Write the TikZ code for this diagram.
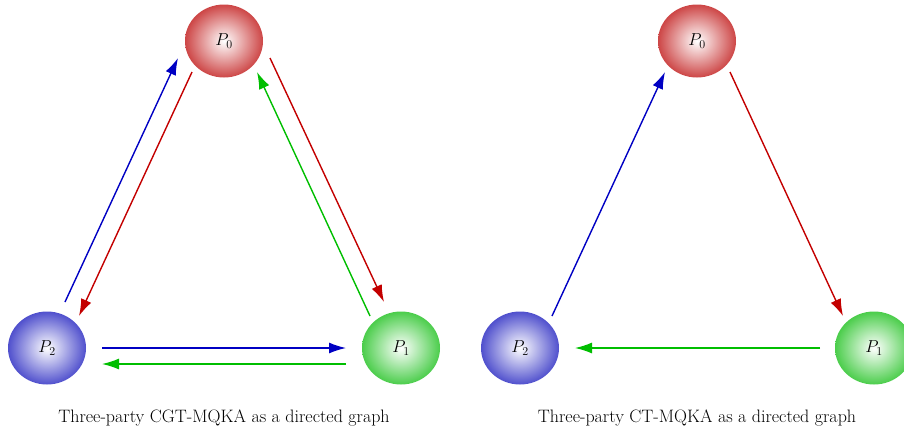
\documentclass[tikz,border=0pt]{standalone}
\usetikzlibrary{shapes.geometric,arrows.meta,calc}
\definecolor{cred}{RGB}{195,0,0}
\definecolor{cblue}{RGB}{0,0,195}
\definecolor{cgreen}{RGB}{0,190,0}
\definecolor{bred}{RGB}{205,70,70}
\definecolor{bblue}{RGB}{80,80,205}
\definecolor{bgreen}{RGB}{75,205,75}
\begin{document}
\begin{tikzpicture}[x=1pt,y=-1pt,
  party/.style={ellipse,minimum width=78pt,minimum height=73pt,inner sep=0pt,shading=radial,inner color=white,font=\fontsize{17}{20}\selectfont},
  pred/.style={party,outer color=bred},
  pblue/.style={party,outer color=bblue},
  pgreen/.style={party,outer color=bgreen},
  conn/.style={line width=1.4pt,-{Latex[length=17pt,width=11pt]}},
  captext/.style={font=\fontsize{18}{21}\selectfont}]
\useasboundingbox (0,0) rectangle (904,434);
% left graph
\node[pred] (p0L) at (224,41) {$P_0$};
\node[pblue] (p2L) at (47,348) {$P_2$};
\node[pgreen] (p1L) at (401,348) {$P_1$};
\draw[conn,cblue] ($(p2L)+(18,-46)$) -- ($(p0L)+(-46,17)$);
\draw[conn,cred] ($(p0L)+(-32,31)$) -- ($(p2L)+(32,-32)$);
\draw[conn,cred] ($(p0L)+(46,17)$) -- ($(p1L)+(-17,-46)$);
\draw[conn,cgreen] ($(p1L)+(-31,-32)$) -- ($(p0L)+(33,31)$);
\draw[conn,cblue] ($(p2L)+(55,0)$) -- ($(p1L)+(-55,0)$);
\draw[conn,cgreen] ($(p1L)+(-55,16)$) -- ($(p2L)+(55,16)$);
\node[captext] (capL) at (224,418) {Three-party CGT-MQKA as a directed graph};
% right graph
\node[pred] (p0R) at (697,41) {$P_0$};
\node[pblue] (p2R) at (520,348) {$P_2$};
\node[pgreen] (p1R) at (874,348) {$P_1$};
\draw[conn,cblue] ($(p2R)+(32,-32)$) -- ($(p0R)+(-32,31)$);
\draw[conn,cred] ($(p0R)+(33,31)$) -- ($(p1R)+(-31,-32)$);
\draw[conn,cgreen] ($(p1R)+(-54,0)$) -- ($(p2R)+(55,0)$);
\node[captext] (capR) at (697,418) {Three-party CT-MQKA as a directed graph};
\end{tikzpicture}
\end{document}
